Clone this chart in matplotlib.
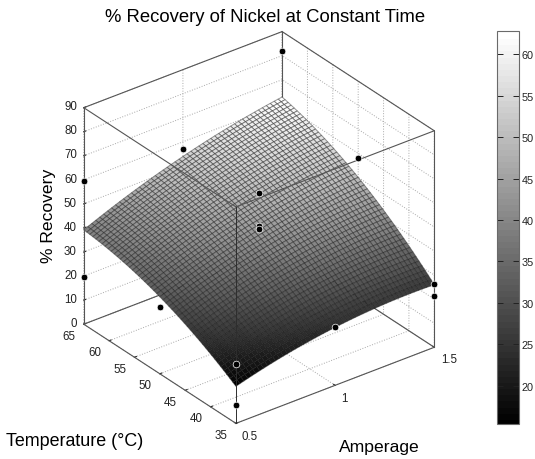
import numpy as np
import matplotlib
matplotlib.use("Agg")
import matplotlib.pyplot as plt
from matplotlib.transforms import offset_copy

plt.rcParams['font.family'] = ['Liberation Sans', 'DejaVu Sans']
plt.rcParams['grid.linestyle'] = ':'
plt.rcParams['grid.color'] = '#a8a8a8'
plt.rcParams['grid.linewidth'] = 0.7

amperage_knots = [0.5, 1.0, 1.5]
temperature_knots = [35, 50, 65]
# rows: temperature, columns: amperage
recovery_knots = [
    [15.4, 24.1, 26.0],
    [32.0, 44.0, 50.0],
    [39.2, 53.9, 62.8],
]
point_amperage = [1.5, 1.0, 0.5, 0.5, 0.5, 1.5, 1.0, 1.0, 1.0, 1.5, 1.5, 1.0, 0.5, 0.5]
point_temperature = [65, 65, 65, 65, 50, 50, 50, 50, 50, 35, 35, 35, 35, 35]
point_recovery = [82.1, 57.2, 59.4, 19.8, 27.9, 58.0, 59.4, 45.8, 44.4, 26.4, 21.5, 24.1, 24.8, 7.8]
amp_ticks = [0.5, 1, 1.5]
temp_ticks = [35, 40, 45, 50, 55, 60, 65]
rec_ticks = list(range(0, 100, 10))
cbar_ticks = [20, 25, 30, 35, 40, 45, 50, 55, 60]
vmin, vmax = 15.4, 62.8
N_MESH = 51

W, H = 535, 460
fig = plt.figure(figsize=(W / 100, H / 100), dpi=100, facecolor='white')
S = 460
ax = fig.add_axes([22.8 / W, -4.7 / H, S / W, S / H], projection='3d', computed_zorder=False)
ax.set_proj_type('ortho')
ax.view_init(elev=30, azim=232.5)
ax.set_box_aspect((1, 1, 1), zoom=462.5 / (1.1002 * S))
ax.patch.set_alpha(0)

ax.set_xlim(0.5, 1.5)
ax.set_ylim(35, 65)
ax.set_zlim(0, 90)
ax.set_xticks(amp_ticks)
ax.set_xticklabels(['0.5', '1', '1.5'])
ax.set_yticks(temp_ticks)
ax.set_zticks(rec_ticks)

# Mesh through the values read at the nine knots (response surface)
A = np.linspace(0.5, 1.5, N_MESH)
T = np.linspace(35, 65, N_MESH)
def lagr(x, knots):
    k = np.asarray(knots, float)
    return np.array([np.prod([(x - k[j]) / (k[i] - k[j]) for j in range(3) if j != i], axis=0) for i in range(3)])
Z = lagr(T, temperature_knots).T @ np.asarray(recovery_knots) @ lagr(A, amperage_knots)
AA, TT = np.meshgrid(A, T)

surf = ax.plot_surface(AA, TT, Z, cmap=plt.get_cmap('gray', 64), vmin=vmin, vmax=vmax,
                       rstride=1, cstride=1, shade=False, edgecolor=(0.1, 0.1, 0.1, 0.45),
                       linewidth=0.7, antialiased=True, zorder=2)
surf.set_snap(False)

ax.plot(point_amperage, point_temperature, point_recovery, linestyle='none', marker='o',
        markersize=4.8, markerfacecolor='black', markeredgecolor='white', markeredgewidth=0.5, zorder=4)

x0, x1 = ax.get_xlim(); y0, y1 = ax.get_ylim(); z0, z1 = ax.get_zlim()
front_or_top = [([x0, x1], [y0, y0], [z0, z0]), ([x0, x1], [y0, y0], [z1, z1]),
                ([x0, x1], [y1, y1], [z1, z1]), ([x0, x0], [y0, y1], [z0, z0]),
                ([x0, x0], [y0, y1], [z1, z1]), ([x1, x1], [y0, y1], [z1, z1]),
                ([x1, x1], [y0, y0], [z0, z1]), ([x0, x0], [y1, y1], [z0, z1])]
behind = [([x0, x1], [y1, y1], [z0, z0]), ([x1, x1], [y0, y1], [z0, z0]),
          ([x1, x1], [y1, y1], [z0, z1])]
for xs, ys, zs in front_or_top:
    ax.plot(xs, ys, zs, color='#555555', lw=0.8, zorder=3)
for xs, ys, zs in behind:
    ax.plot(xs, ys, zs, color='#555555', lw=0.8, zorder=1)
ax.plot([x0, x0], [y0, y0], [z0, z1], color='#2e2e2e', lw=0.7, zorder=3)

for axis in (ax.xaxis, ax.yaxis, ax.zaxis):
    axis.set_pane_color((1, 1, 1, 0))
    axis.pane.set_edgecolor('none')
    axis.line.set_color('none')
    axis._axinfo['tick']['inward_factor'] = 0.0
    axis._axinfo['tick']['outward_factor'] = 0.12
ax.tick_params(axis='both', labelsize=8.3, colors='#222222', pad=1)
ax.tick_params(axis='x', pad=0)
ax.tick_params(axis='y', pad=0)
ax.tick_params(axis='z', pad=2)
ax.grid(True)

def nudge(axis, offsets, ha=None):
    # Axis3D re-applies transData to its labels on every draw, so pin the shifted transform
    for tick, (dx, dy) in zip(axis.get_major_ticks(), offsets):
        tick.label1.set_transform(offset_copy(ax.transData, fig=fig, x=dx, y=dy, units='dots'))
        tick.label1.set_transform = lambda t: None
        if ha:
            tick.label1.set_ha(ha)

nudge(ax.xaxis, [(7, 8), (2, 8), (8, 9)])
nudge(ax.yaxis, [(-5.5, 8)] * 7)
nudge(ax.zaxis, [(13.5, 6)] * 10, ha='right')

fig.text(265 / W, 1 - 17 / H, '% Recovery of Nickel at Constant Time', ha='center', va='center', fontsize=13.3)
fig.text(49 / W, 1 - 216 / H, '% Recovery', ha='center', va='center', rotation=90, fontsize=12.6)
fig.text(6 / W, 1 - 442 / H, 'Temperature (°C)', ha='left', va='center', fontsize=12.9)
fig.text(339 / W, 1 - 448 / H, 'Amperage', ha='left', va='center', fontsize=12.6)

cax = fig.add_axes([497 / W, 1 - 425 / H, 22 / W, 393 / H])
cb = fig.colorbar(surf, cax=cax)
cb.set_ticks(cbar_ticks)
cb.solids.set_edgecolor('face')
cax.tick_params(axis='y', direction='in', length=4, width=0.7, left=True, right=True,
                labelsize=7.8, pad=2, colors='#222222')
cb.outline.set_edgecolor('#6a6a6a')
cb.outline.set_linewidth(0.8)

fig.savefig('out.png', dpi=100)
